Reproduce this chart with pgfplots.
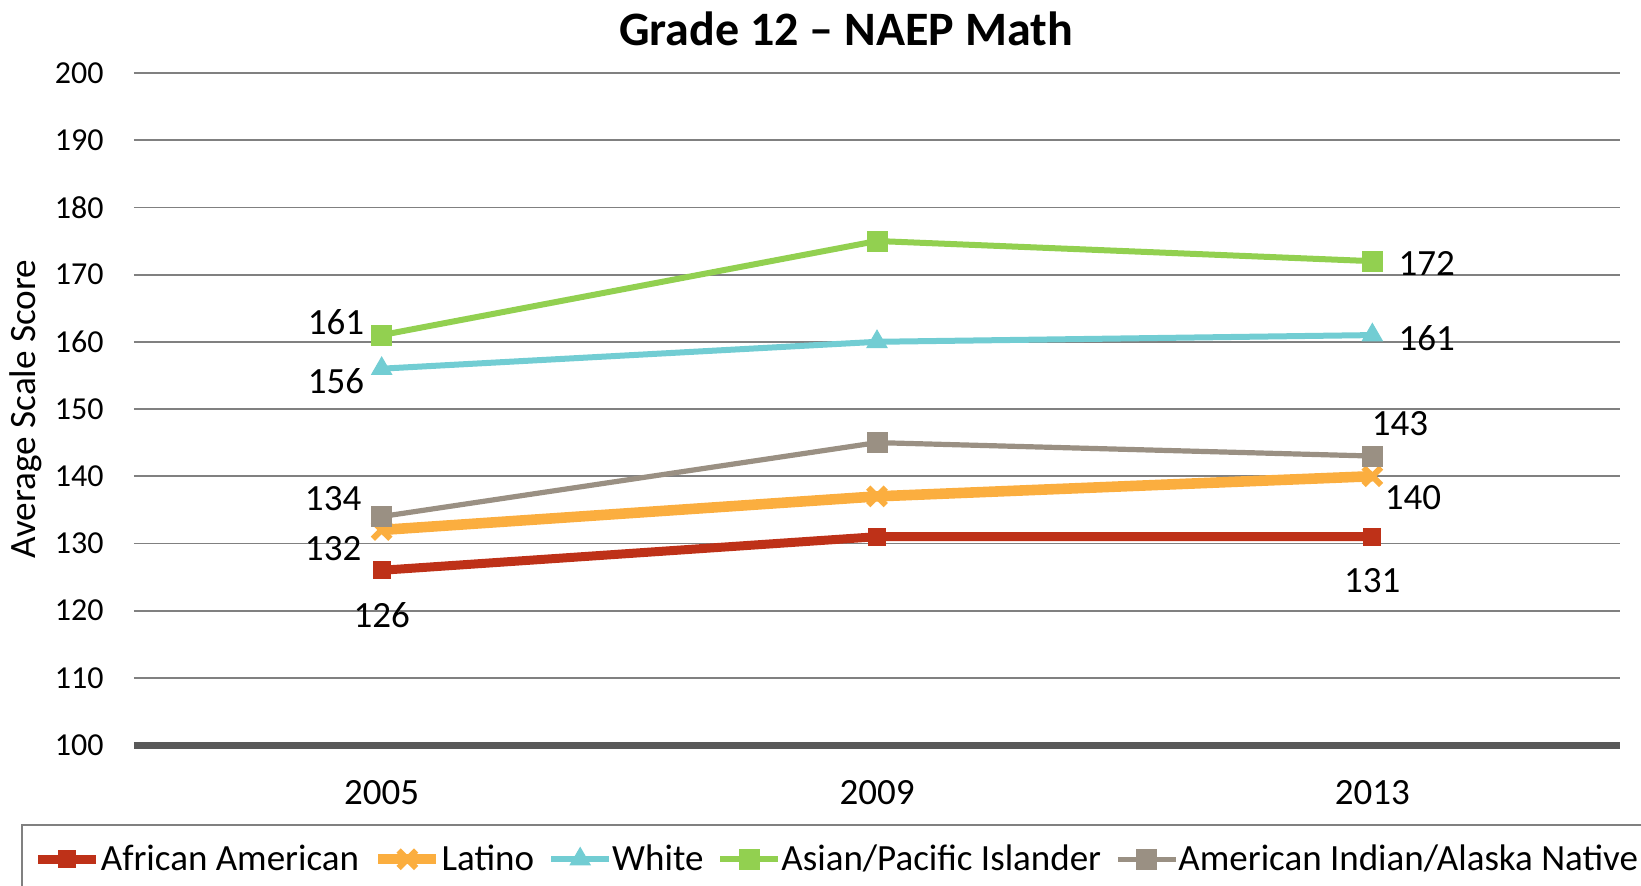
\documentclass[border=0pt]{standalone}
\usepackage{pgfplots}
\pgfplotsset{compat=1.18}
\usepackage{fontspec}
\setmainfont{Carlito}
\definecolor{cAA}{HTML}{BE3118}
\definecolor{cLat}{HTML}{FBAE3F}
\definecolor{cWh}{HTML}{72CDD3}
\definecolor{cAs}{HTML}{92D050}
\definecolor{cAI}{HTML}{9A9083}
\definecolor{cGrid}{HTML}{808080}
\definecolor{cBase}{HTML}{595959}
\begin{document}
\begin{tikzpicture}
\begin{axis}[
  scale only axis,
  width=743pt, height=336pt,
  at={(0,0)}, anchor=south west,
  xmin=-0.5, xmax=2.5,
  ymin=100, ymax=200,
  xtick={0,1,2},
  xticklabels={2005,2009,2013},
  ytick={110,120,...,200},
  extra y ticks={100},
  extra y tick style={grid style={line width=3.5pt, color=cBase}},
  major tick length=0pt,
  ymajorgrids,
  grid style={line width=0.9pt, color=cGrid},
  axis line style={draw=none},
  /pgf/number format/assume math mode=true,
  yticklabel style={font=\fontsize{16}{19}\selectfont, anchor=east, inner sep=0pt, xshift=-15pt},
  xticklabel style={font=\fontsize{18.5}{22}\selectfont, anchor=center, yshift=-24pt},
  ylabel={Average Scale Score},
  ylabel style={font=\fontsize{18.6}{22}\selectfont, at={(axis description cs:-0.0727,0.5)}, anchor=center},
  title={\textbf{Grade 12 – NAEP Math}},
  title style={font=\fontsize{24}{28}\selectfont, at={(axis description cs:0.5,1)}, anchor=center, yshift=16pt, xshift=-15.5pt},
  clip=false,
  legend columns=-1,
  legend image code/.code={\draw[mark repeat=2,mark phase=2,#1] plot coordinates {(0pt,0pt) (14.5pt,0pt) (29pt,0pt)};},
  legend style={
    at={(axis description cs:-0.076,-0.1176)}, anchor=north west,
    draw=cGrid, line width=0.8pt,
    font=\fontsize{18.5}{22}\selectfont,
    inner xsep=6pt, inner ysep=10pt,
    nodes={inner xsep=0pt, inner ysep=0pt},
    /tikz/every even column/.append style={column sep=7pt},
  },
]
\addplot[color=cAA, line width=4.5pt, mark=square*, mark size=4.3pt, mark options={solid, fill=cAA, line width=0.5pt}]
  coordinates {(0,126) (1,131) (2,131)};
\addlegendentry{African American}
\addplot[color=cLat, line width=5.3pt, mark=x, mark size=6.2pt, mark options={solid, line width=3pt}]
  coordinates {(0,132) (1,137) (2,140)};
\addlegendentry{Latino}
\addplot[color=cWh, line width=3pt, mark=triangle*, mark size=5.8pt, mark options={solid, fill=cWh, line width=0.5pt}]
  coordinates {(0,156) (1,160) (2,161)};
\addlegendentry{White}
\addplot[color=cAs, line width=3pt, mark=square*, mark size=5pt, mark options={solid, fill=cAs, line width=0.5pt}]
  coordinates {(0,161) (1,175) (2,172)};
\addlegendentry{Asian/Pacific Islander}
\addplot[color=cAI, line width=2.6pt, mark=square*, mark size=5pt, mark options={solid, fill=cAI, line width=0.5pt}]
  coordinates {(0,134) (1,145) (2,143)};
\addlegendentry{American Indian/Alaska Native}
\begin{scope}[every node/.style={font=\fontsize{18.5}{22}\selectfont, anchor=center}]
\node at (axis cs:-0.092,163.0) {161};
\node at (axis cs:-0.092,154.1) {156};
\node at (axis cs:-0.098,136.6) {134};
\node at (axis cs:-0.098,129.2) {132};
\node at (axis cs:0.0,119.3) {126};
\node at (axis cs:2.11,171.6) {172};
\node at (axis cs:2.11,160.6) {161};
\node at (axis cs:2.056,147.8) {143};
\node at (axis cs:2.082,136.8) {140};
\node at (axis cs:2.0,124.4) {131};
\end{scope}
\end{axis}
\pgfresetboundingbox
\useasboundingbox (-67pt,-70pt) rectangle (753.5pt,372.5pt);
\end{tikzpicture}
\end{document}
